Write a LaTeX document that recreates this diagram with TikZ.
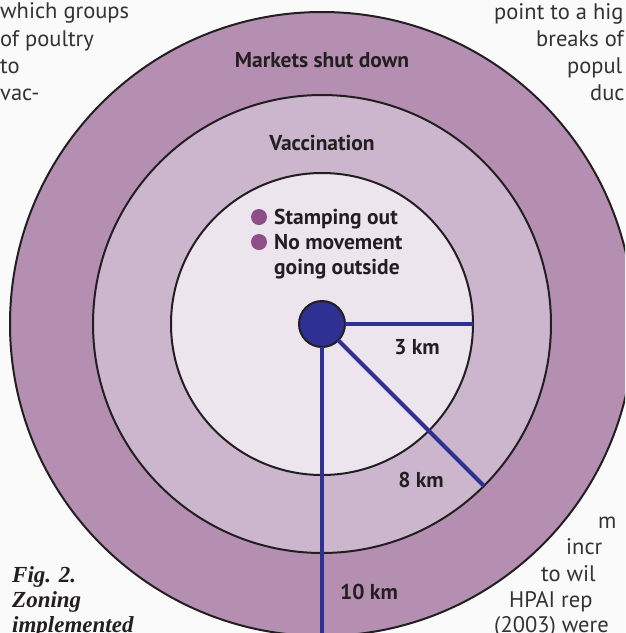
\documentclass[tikz,border=0pt]{standalone}
\usepackage{fontspec}
\setmainfont{PT Sans}
\newfontfamily\capfont{Liberation Serif}
\definecolor{bgc}{HTML}{FAFAFB}
\definecolor{ringA}{HTML}{B48FB2}
\definecolor{ringB}{HTML}{CBB6CD}
\definecolor{ringC}{HTML}{EDE5EE}
\definecolor{dotblue}{HTML}{2E3192}
\definecolor{bulletc}{HTML}{8C4F88}
\definecolor{ink}{HTML}{231F20}
\definecolor{bodyink}{HTML}{333333}
\begin{document}
\begin{tikzpicture}[x=1pt,y=-1pt,
  zone/.style={circle,draw=ink,line width=2pt,inner sep=0pt,outer sep=0pt},
  radius line/.style={draw=dotblue,line width=4pt},
  lbl/.style={text=ink,font=\fontsize{21.5}{24}\selectfont\bfseries,inner sep=0pt},
  body/.style={text=bodyink,font=\fontsize{22.5}{26}\selectfont,anchor=base west,inner sep=0pt},
  capt/.style={text=ink,font=\capfont\fontsize{23}{25}\selectfont\bfseries\itshape,anchor=base west,inner sep=0pt},
  bullet/.style={circle,fill=bulletc,inner sep=0pt,minimum size=16pt}]
\useasboundingbox (0,0) rectangle (625,633);
\clip (0,0) rectangle (625,633);
\fill[bgc] (0,0) rectangle (625,633);
% zones
\node[zone,fill=ringA,minimum size=624pt] (outer) at (322,324) {};
\node[zone,fill=ringB,minimum size=458pt] (mid) at (322,324) {};
\node[zone,fill=ringC,minimum size=302pt] (inner) at (322,324) {};
\node[circle,fill=dotblue,draw=ink,line width=2pt,inner sep=0pt,outer sep=0pt,minimum size=46pt] (dot) at (322,324) {};
% radii
\draw[radius line] (dot) -- (inner.east);
\draw[radius line] (dot) -- (mid.-45);
\draw[radius line] (dot) -- (outer.south);
% zone labels
\node[lbl] (markets) at (322,60) {Markets shut down};
\node[lbl] (vacc) at (322,143) {Vaccination};
\node[bullet] (b1) at (259,217) {};
\node[bullet] (b2) at (259,242) {};
\node[lbl,anchor=base west] (s1) at (274,224) {Stamping out};
\node[lbl,anchor=base west] (s2) at (274,249) {No movement};
\node[lbl,anchor=base west] (s3) at (274,274) {going outside};
\node[lbl] (km3) at (417,347) {3 km};
\node[lbl] (km8) at (421,480) {8 km};
\node[lbl] (km10) at (369,592) {10 km};
% surrounding article text
\node[body] (l1) at (0,18) {which groups};
\node[body] (l2) at (0,46) {of poultry};
\node[body] (l3) at (0,73) {to};
\node[body] (l4) at (0,100) {vac-};
\node[body] (r1) at (494,19) {point to a hig};
\node[body] (r2) at (536,46) {breaks of};
\node[body] (r3) at (567,73) {popul};
\node[body] (r4) at (590,100) {duc};
\node[body] (r5) at (598,528) {m};
\node[body] (r6) at (566,554) {incr};
\node[body] (r7) at (541,581) {to wil};
\node[body] (r8) at (509,607) {HPAI rep};
\node[body] (r9) at (494,632) {(2003) were};
% caption
\node[capt] (c1) at (12,582) {Fig. 2.};
\node[capt] (c2) at (12,607) {Zoning};
\node[capt] (c3) at (12,632) {implemented};
\end{tikzpicture}
\end{document}
